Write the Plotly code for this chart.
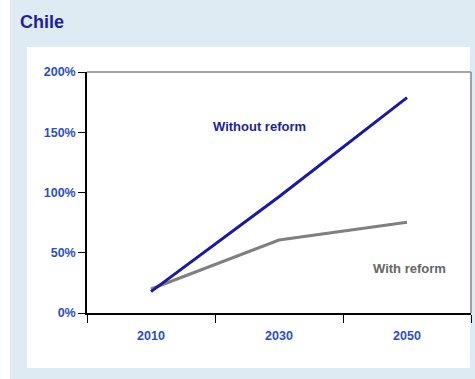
import plotly.graph_objects as go

years = ["2010", "2030", "2050"]
without_reform = [17.7, 96.5, 178.7]
with_reform = [19.9, 60.6, 75.3]
y_ticks = [0, 50, 100, 150, 200]
y_tick_labels = ["0%", "50%", "100%", "150%", "200%"]

W, H = 475, 379
L, R, T, B = 87, 4, 72, 66
pw, ph = W - L - R, H - T - B

def px(x):
    return (x - L) / pw

def py(y):
    return (H - B - y) / ph

fig = go.Figure()
fig.add_trace(go.Scatter(x=years, y=with_reform, mode="lines",
                         line=dict(color="#808080", width=3), showlegend=False))
fig.add_trace(go.Scatter(x=years, y=without_reform, mode="lines",
                         line=dict(color="#1A1A9E", width=3), showlegend=False))

tick_font = dict(family="Liberation Sans, Arial", size=12.5, color="#2E4FBF", weight="bold")

fig.update_layout(
    width=W, height=H,
    margin=dict(l=L, r=R, t=T, b=B),
    paper_bgcolor="white", plot_bgcolor="rgba(0,0,0,0)",
    xaxis=dict(type="category", tickson="boundaries", ticks="outside", ticklen=8,
               tickcolor="black", showline=True, linecolor="black", linewidth=1.5,
               showgrid=False, zeroline=False, tickfont=tick_font,
               ticklabelstandoff=10, range=[-0.5, 2.5]),
    yaxis=dict(range=[0, 200], tickvals=y_ticks, ticktext=y_tick_labels,
               ticks="outside", ticklen=7, tickcolor="black", showline=True,
               linecolor="black", linewidth=1.5, showgrid=False, zeroline=False,
               tickfont=tick_font, ticklabelstandoff=0),
    shapes=[
        dict(type="rect", xref="paper", yref="paper", layer="below",
             x0=px(10), x1=px(480), y0=py(-5), y1=py(384),
             fillcolor="#DFEBF2", line=dict(width=0)),
        dict(type="rect", xref="paper", yref="paper", layer="below",
             x0=px(27), x1=px(470), y0=py(47), y1=py(368),
             fillcolor="white", line=dict(width=0)),
        dict(type="line", xref="paper", yref="paper", x0=0, x1=1, y0=1, y1=1,
             line=dict(color="#888888", width=1.5)),
        dict(type="line", xref="paper", yref="paper", x0=1, x1=1, y0=0, y1=1,
             line=dict(color="#888888", width=1.5)),
    ],
    annotations=[
        dict(text="<b>Chile</b>", xref="paper", yref="paper", x=px(18), y=py(22),
             xanchor="left", yanchor="middle", showarrow=False,
             font=dict(family="Liberation Sans, Arial", size=18, color="#1F1F99")),
        dict(text="<b>Without reform</b>", xref="paper", yref="paper", x=px(259), y=py(126),
             xanchor="center", yanchor="middle", showarrow=False,
             font=dict(family="Liberation Sans, Arial", size=13, color="#1F1F99")),
        dict(text="<b>With reform</b>", xref="paper", yref="paper", x=px(409.5), y=py(268),
             xanchor="center", yanchor="middle", showarrow=False,
             font=dict(family="Liberation Sans, Arial", size=13, color="#666666")),
    ],
)

fig.write_html("out.html", config={"displayModeBar": False},
               post_script="document.body.style.margin='0';")
